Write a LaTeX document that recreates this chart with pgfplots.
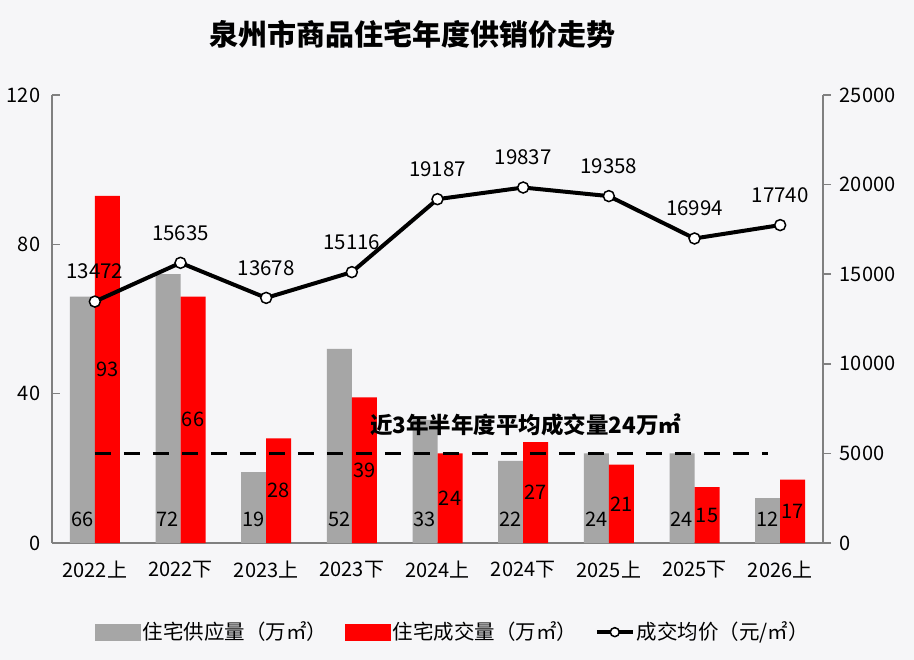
\documentclass[border=0pt]{standalone}
\usepackage{fontspec}
\setmainfont{Noto Sans CJK SC}
\usepackage{pgfplots}
\usepackage{pgfplotstable}
\pgfplotsset{compat=1.18}
\definecolor{barGray}{RGB}{166,166,166}
\definecolor{barRed}{RGB}{255,0,0}
\definecolor{axGray}{RGB}{128,128,128}
\definecolor{bgc}{RGB}{246,246,248}
\pgfplotsset{/pgf/number format/assume math mode=true, /pgf/number format/1000 sep={}}

\pgfplotstableread{
idx supply sales price
0 66 93 13472
1 72 66 15635
2 19 28 13678
3 52 39 15116
4 33 24 19187
5 22 27 19837
6 24 21 19358
7 24 15 16994
8 12 17 17740
}\data

\begin{document}
\fontsize{20bp}{24bp}\selectfont
\begin{tikzpicture}
\fill[bgc] (-52bp,-117bp) rectangle (862bp,543bp);
\begin{axis}[
  at={(0,0)}, anchor=south west,
  scale only axis, width=771bp, height=448bp,
  xmin=-0.5, xmax=8.5, ymin=0, ymax=120,
  xtick={0,...,8},
  xticklabels={2022上,2022下,2023上,2023下,2024上,2024下,2025上,2025下,2026上},
  ytick={0,40,80,120},
  axis x line*=bottom, axis y line*=left,
  axis line style={-, draw=axGray, line width=1.5bp},
  x tick style={draw=none},
  y tick style={draw=axGray, line width=1.5bp},
  tick align=inside, major tick length=8bp,
  yticklabel style={xshift=-5bp},
  xticklabel style={yshift=-11bp},
  tick label style={font=\fontsize{20bp}{24bp}\selectfont},
  title={泉州市商品住宅年度供销价走势},
  title style={at={(0.467,1.122)}, anchor=center, font=\fontsize{29bp}{34bp}\selectfont\bfseries},
  clip=false,
  every node near coord/.append style={anchor=center, font=\fontsize{20bp}{24bp}\selectfont, text=black},
]
\addplot[ybar, bar width=25bp, bar shift=-12.5bp, fill=barGray, draw=none] table[x=idx,y=supply]{\data};
\addplot[ybar, bar width=25bp, bar shift=12.5bp, fill=barRed, draw=none] table[x=idx,y=sales]{\data};
\addplot[draw=none, mark=none, nodes near coords, point meta=explicit] table[x expr=\thisrow{idx}-0.146, y expr=6.4, meta=supply]{\data};
\addplot[draw=none, mark=none, nodes near coords, point meta=explicit] table[x expr=\thisrow{idx}+0.146, y expr=\thisrow{sales}/2, meta=sales]{\data};
\end{axis}
\begin{axis}[
  at={(0,0)}, anchor=south west,
  scale only axis, width=771bp, height=448bp,
  xmin=-0.5, xmax=8.5, ymin=0, ymax=25000,
  axis x line=none, axis y line*=right,
  axis line style={-, draw=axGray, line width=1.5bp},
  ytick={0,5000,10000,15000,20000,25000},
  scaled y ticks=false,
  y tick style={draw=axGray, line width=1.5bp},
  tick align=outside, major tick length=8bp,
  yticklabel style={xshift=2bp},
  tick label style={font=\fontsize{20bp}{24bp}\selectfont},
  clip=false,
  legend style={at={(0.52,-0.199)}, anchor=center, draw=none, fill=none,
    legend columns=3, font=\fontsize{20.5bp}{24bp}\selectfont,
    /tikz/every even column/.append style={column sep=16bp},
    cells={anchor=west}},
]
\addlegendimage{legend image code/.code={\fill[barGray] (0bp,-8bp) rectangle (45bp,8bp);}}
\addlegendentry{住宅供应量（万㎡）}
\addlegendimage{legend image code/.code={\fill[barRed] (0bp,-8bp) rectangle (45bp,8bp);}}
\addlegendentry{住宅成交量（万㎡）}
\addplot[black, line width=3.5bp, dash pattern=on 16bp off 13bp, forget plot] coordinates {(0,5000) (7.86,5000)};
\addplot[black, line width=4bp, mark=*, mark size=5.5bp,
  mark options={fill=white, draw=black, line width=1.5bp, solid},
  nodes near coords, point meta=explicit,
  every node near coord/.append style={anchor=center, yshift=30bp, font=\fontsize{20.5bp}{24bp}\selectfont, text=black},
  legend image code/.code={\draw[black, line width=3.5bp] (0bp,0bp) -- (36bp,0bp); \draw[black, fill=white, line width=1.5bp] (18bp,0bp) circle (4.5bp);}
] table[x=idx, y=price, meta=price]{\data};
\addlegendentry{成交均价（元/㎡）}
\node[font=\fontsize{22.5bp}{26bp}\selectfont\bfseries] at (axis cs:5.03,6585) {近3年半年度平均成交量24万㎡};
\end{axis}
\end{tikzpicture}
\end{document}
